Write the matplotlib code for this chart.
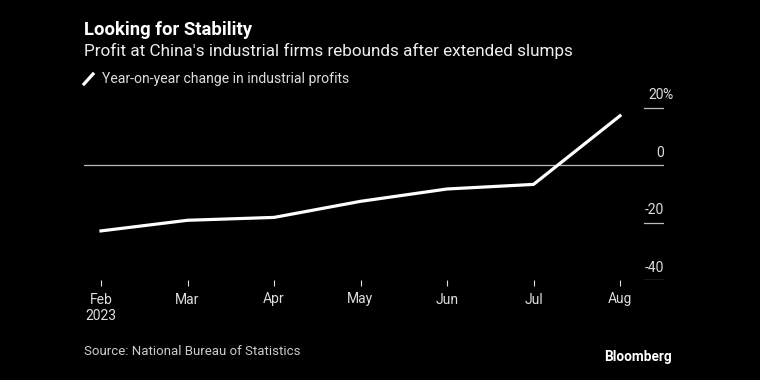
import matplotlib
matplotlib.use('Agg')
import matplotlib.pyplot as plt
import matplotlib.transforms as mtransforms
from matplotlib import font_manager
from matplotlib.lines import Line2D

# data: year-on-year change in industrial profits, %
months = ['Feb\n2023', 'Mar', 'Apr', 'May', 'Jun', 'Jul', 'Aug']
profit_change = [-22.9, -19.2, -18.2, -12.6, -8.3, -6.7, 17.2]
y_ticks = [20, 0, -20, -40]
y_labels = ['20', '0', '-20', '-40']

names = {f.name for f in font_manager.fontManager.ttflist}
font = 'Liberation Sans Narrow' if 'Liberation Sans Narrow' in names else 'Roboto'
plt.rcParams['font.family'] = [font, 'DejaVu Sans']

W, H = 760, 380
fig = plt.figure(figsize=(7.6, 3.8), dpi=100, facecolor='black')
ax = fig.add_axes([84 / W, 1 - 280 / H, 580 / W, 180 / H])
ax.set_facecolor('black')

x = list(range(len(months)))
ax.plot(x, profit_change, color='white', lw=2.3, zorder=3)
ax.axhline(0, color='#bbbbbb', lw=0.9, zorder=2)

ax.set_xlim(-17 / 86.5, 6 + 44 / 86.5)
ax.set_ylim(-40, 22.7)

for s in ax.spines.values():
    s.set_visible(False)

ax.set_xticks(x)
ax.set_xticklabels(months, color='#dddddd', fontsize=10, linespacing=1.25)
ax.tick_params(axis='x', colors='#dddddd', length=4, width=0.8, pad=5, labelcolor='#dddddd')
ax.set_yticks([])

# short gridlines and labels on right
trans = mtransforms.blended_transform_factory(ax.transAxes, ax.transData)
for v, lab in zip(y_ticks, y_labels):
    if v != 0:
        ax.axhline(v, xmin=(644 - 84) / 580, xmax=1, color='#bbbbbb', lw=0.9)
    ax.annotate(lab, xy=(1, v), xycoords=trans, xytext=(0, 6), textcoords='offset points',
                ha='right', va='baseline', color='#dddddd', fontsize=10)
ax.annotate('%', xy=(1, 20), xycoords=trans, xytext=(-1, 6), textcoords='offset points',
            ha='left', va='baseline', color='#dddddd', fontsize=10)

# header
fig.text(84 / W, 1 - 35 / H, 'Looking for Stability', color='white', fontsize=13.3,
         fontweight='bold', va='baseline')
fig.text(84 / W, 1 - 56 / H, "Profit at China's industrial firms rebounds after extended slumps",
         color='#eeeeee', fontsize=12.3, va='baseline')
fig.add_artist(Line2D([84 / W, 93 / W], [1 - 84 / H, 1 - 74 / H], color='white', lw=2.3,
                      transform=fig.transFigure))
fig.text(102 / W, 1 - 83 / H, 'Year-on-year change in industrial profits', color='#dddddd',
         fontsize=10.1, va='baseline')

# footer
fig.text(84 / W, 1 - 355 / H, 'Source: National Bureau of Statistics', color='#cccccc',
         fontsize=9.5, va='baseline')
fig.text(672 / W, 1 - 361 / H, 'Bloomberg', color='white', fontsize=9.8, fontweight='bold',
         ha='right', va='baseline')

fig.savefig('out.png', dpi=100, facecolor='black')
